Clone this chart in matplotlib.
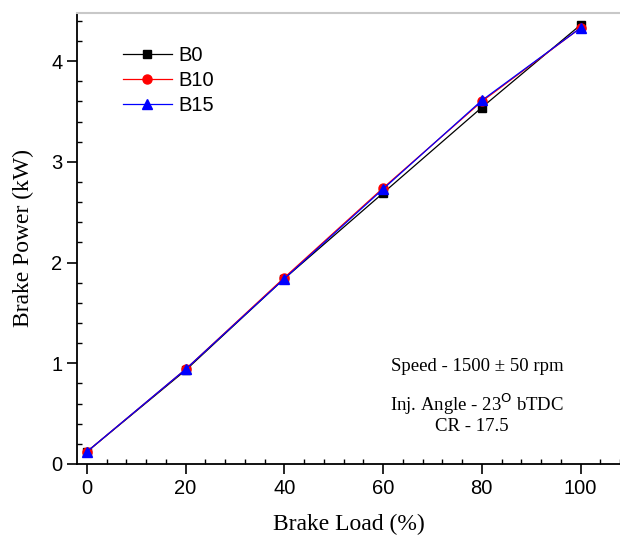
import matplotlib
matplotlib.use("Agg")
import matplotlib.pyplot as plt
from matplotlib.ticker import MultipleLocator

load = [0, 20, 40, 60, 80, 100]
b0 = [0.12, 0.93, 1.84, 2.69, 3.54, 4.36]
b10 = [0.12, 0.94, 1.85, 2.74, 3.60, 4.33]
b15 = [0.12, 0.94, 1.84, 2.73, 3.61, 4.33]

fig = plt.figure(figsize=(6.2, 5.37), dpi=100)
ax = fig.add_axes([0.124, 0.136, 0.876, 0.840])

ax.plot(load, b0, color="black", lw=0.9, marker="s", ms=6, label="B0")
ax.plot(load, b10, color="red", lw=0.9, marker="o", ms=6.5, label="B10")
ax.plot(load, b15, color="blue", lw=0.9, marker="^", ms=7.5, label="B15")

ax.set_xlim(-2, 108)
ax.set_ylim(0, 4.48)
ax.xaxis.set_major_locator(MultipleLocator(20))
ax.xaxis.set_minor_locator(MultipleLocator(4))
ax.yaxis.set_major_locator(MultipleLocator(1))
ax.yaxis.set_minor_locator(MultipleLocator(0.2))

ax.tick_params(which="major", direction="out", length=7, width=1.2,
               labelsize=14.5, top=False, right=False)
ax.tick_params(which="minor", direction="in", length=3.5, width=1.0,
               top=False, right=False)
for lab in ax.get_xticklabels() + ax.get_yticklabels():
    lab.set_fontfamily("Liberation Sans")

ax.spines["left"].set_linewidth(1.3)
ax.spines["bottom"].set_linewidth(1.3)
ax.spines["top"].set_color("#c8c8c8")
ax.spines["top"].set_linewidth(1.5)
ax.spines["right"].set_visible(False)

ax.set_xlabel("Brake Load (%)", fontsize=17, family="Liberation Serif", labelpad=12)
ax.set_ylabel("Brake Power (kW)", fontsize=17, family="Liberation Serif", labelpad=12)

leg = ax.legend(loc="upper left", bbox_to_anchor=(0.052, 0.967), frameon=False,
                prop={"family": "Liberation Sans", "size": 14.5},
                handlelength=2.4, labelspacing=0.3, handletextpad=0.35)

ax.text(0.737, 0.215, "Speed - 1500 ± 50 rpm", transform=ax.transAxes,
        ha="center", va="center", fontsize=13.5, family="Liberation Serif")
ax.text(0.737, 0.133, "Inj. Angle - 23$^{\\mathrm{O}}$ bTDC", transform=ax.transAxes,
        ha="center", va="center", fontsize=13.5, family="Liberation Serif")
ax.text(0.728, 0.083, "CR - 17.5", transform=ax.transAxes,
        ha="center", va="center", fontsize=13.5, family="Liberation Serif")

fig.savefig("out.png", dpi=100)
